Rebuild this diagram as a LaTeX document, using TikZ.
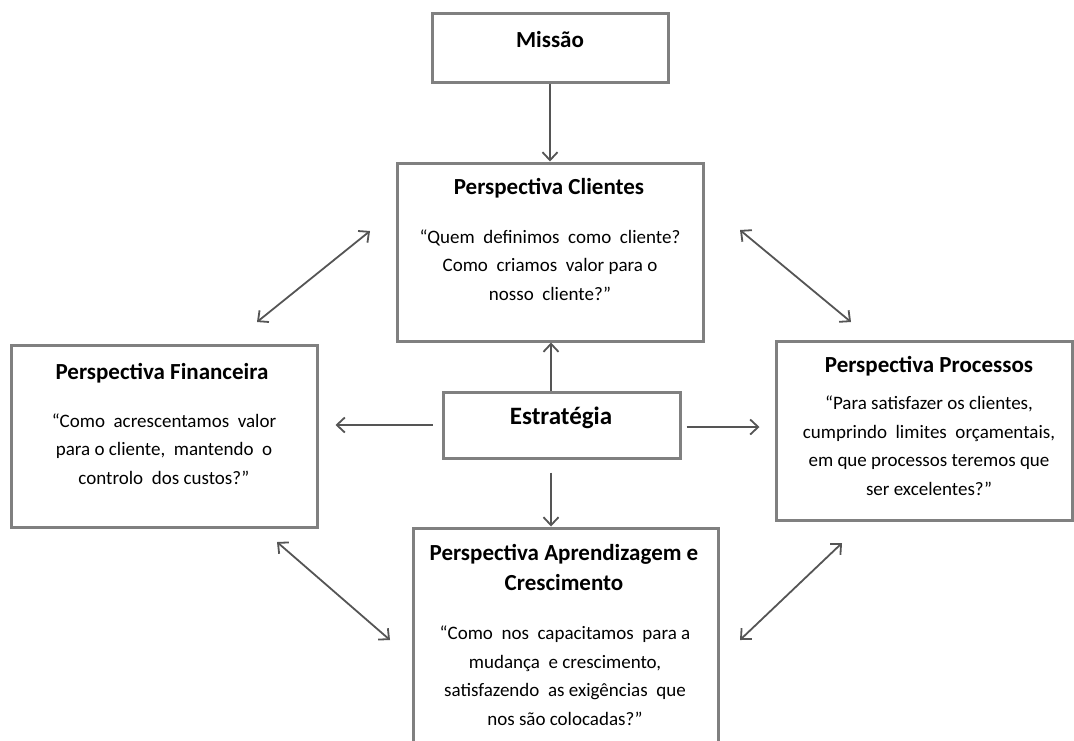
\documentclass[tikz,border=0pt]{standalone}
\usepackage{fontspec}
\setmainfont{Carlito}
\usetikzlibrary{arrows.meta}

\definecolor{boxgray}{RGB}{128,128,128}
\definecolor{linkgray}{RGB}{85,85,85}

% multi-line texts are placed by the baseline of their last line
\tikzset{
  box/.style={draw=boxgray, line width=3pt, fill=white, inner sep=0pt},
  title/.style={font=\fontsize{23}{30}\selectfont\bfseries, align=center, anchor=base, inner sep=0pt},
  body/.style={font=\fontsize{19}{28.5}\selectfont, align=center, anchor=base, inner sep=0pt},
  link/.style={draw=linkgray, line width=1.8pt, -{Straight Barb[length=8pt,width=15pt]}},
  both/.style={draw=linkgray, line width=1.8pt, {Straight Barb[length=8pt,width=15pt]}-{Straight Barb[length=8pt,width=15pt]}}
}

\begin{document}
\begin{tikzpicture}[x=1pt,y=-1pt]
  \useasboundingbox (0,0) rectangle (1074,740);
  \begin{scope}
    \clip (0,0) rectangle (1074,740);

    % boxes
    \node[box, minimum width=236pt, minimum height=69pt]  (mis) at (550,47.5) {};
    \node[box, minimum width=306pt, minimum height=178pt] (cli) at (550,252) {};
    \node[box, minimum width=306pt, minimum height=182pt] (fin) at (164,436) {};
    \node[box, minimum width=296pt, minimum height=179pt] (pro) at (924,430.5) {};
    \node[box, minimum width=237pt, minimum height=66pt]  (est) at (561.5,425) {};
    \node[box, minimum width=305pt, minimum height=240pt] (apr) at (565.5,648) {};

    % texts
    \node[title] (tmis) at (550,47) {Missão};
    \node[title, font=\fontsize{25}{30}\selectfont\bfseries] (test) at (561,424) {Estratégia};

    \node[title] (tcli) at (549,194) {Perspectiva Clientes};
    \node[body] (bcli) at (550,300) {“Quem\ \ definimos\ \ como\ \ cliente?\\Como\ \ criamos\ \ valor para o\\nosso\ \ cliente?”};

    \node[title] (tfin) at (162,379) {Perspectiva Financeira};
    \node[body] (bfin) at (164,484) {“Como\ \ acrescentamos\ \ valor\\para o cliente,\ \ mantendo\ \ o\\controlo\ \ dos custos?”};

    \node[title] (tpro) at (929,372) {Perspectiva Processos};
    \node[body] (bpro) at (929,495) {“Para satisfazer os clientes,\\cumprindo\ \ limites\ \ orçamentais,\\em que processos teremos que\\ser excelentes?”};

    \node[title] (tapr) at (564,590) {Perspectiva Aprendizagem e\\Crescimento};
    \node[body] (bapr) at (565,725) {“Como\ \ nos\ \ capacitamos\ \ para a\\mudança\ \ e crescimento,\\satisfazendo\ \ as exigências\ \ que\\nos são colocadas?”};

    % vertical axis of the central column
    \coordinate (axis) at (551,0);

    % straight connectors
    \draw[link] (mis.south) -- (cli.north);
    \draw[link] (est.north -| axis) -- (cli.south -| axis);
    \draw[link, shorten <=13pt] (est.south -| axis) -- (apr.north -| axis);
    \draw[link, shorten <=9pt, shorten >=17pt] (est.west) -- (fin.east |- est.west);
    \draw[link, shorten <=5pt, shorten >=15pt] ([yshift=-2pt]est.east) -- ([yshift=-2pt]pro.west |- est.east);

    % diagonal double-headed connectors
    \coordinate (dA1) at (257,322); \coordinate (dA2) at (370,231);
    \coordinate (dB1) at (740,230); \coordinate (dB2) at (851,322);
    \coordinate (dC1) at (277,542); \coordinate (dC2) at (390,640);
    \coordinate (dD1) at (740,640); \coordinate (dD2) at (842,543);
    \draw[both] (dA1) -- (dA2);
    \draw[both] (dB1) -- (dB2);
    \draw[both] (dC1) -- (dC2);
    \draw[both] (dD1) -- (dD2);
  \end{scope}
\end{tikzpicture}
\end{document}
